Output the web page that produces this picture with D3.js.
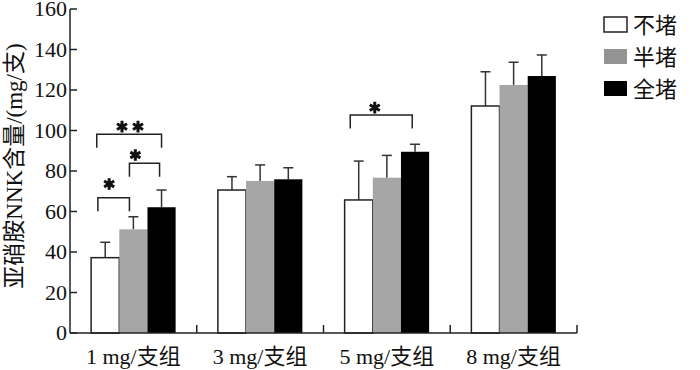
<!DOCTYPE html>
<html>
<head>
<meta charset="utf-8">
<script src="https://cdn.jsdelivr.net/npm/d3@7"></script>
<style>
    html, body { margin: 0; padding: 0; background: #fff; }
    svg { display: block; }
</style>
</head>
<body>
<svg id="chart" width="700" height="370"></svg>
<script>
// Data
const groups = ["1 mg/支组", "3 mg/支组", "5 mg/支组", "8 mg/支组"];
const seriesNames = ["不堵", "半堵", "全堵"];
const seriesColors = ["#ffffff", "#a6a6a6", "#000000"];
const legendColors = ["#ffffff", "#939393", "#000000"];

const meanOpen = [37.2, 70.6, 65.7, 112.1];
const meanHalf = [51.2, 75.1, 76.7, 122.5];
const meanFull = [62.1, 75.9, 89.5, 126.9];

const errOpen = [7.6, 6.6, 19.2, 16.9];
const errHalf = [6.2, 7.9, 11.0, 11.2];
const errFull = [8.5, 5.7, 3.7, 10.4];

const yTicks = [0, 20, 40, 60, 80, 100, 120, 140, 160];

// Significance brackets: positions in bar units (0 = left edge of first bar)
const sigGroup = [0, 0, 0, 2];
const sigFrom = [0.24, 1.36, 0.2, 0.2];
const sigTo = [1.36, 2.43, 2.5, 2.4];
const sigLevel = [66.8, 83.8, 98.1, 107.7];
const sigStarPos = [0.64, 1.57, 1.38, 1.07];
const sigStarLevel = [73.6, 87.9, 101.9, 111.3];
const sigStars = [1, 1, 2, 1];

const means = [meanOpen, meanHalf, meanFull];
const errs = [errOpen, errHalf, errFull];

const svg = d3.select("#chart");
const serif = "'Liberation Serif', 'Times New Roman', 'Noto Sans CJK SC', serif";
const axisColor = "#222";

const x0 = d3.scaleBand().domain(groups).range([70, 577]).padding(0);
const x1 = d3.scaleBand().domain(seriesNames).range([0, x0.bandwidth()]).paddingInner(0).paddingOuter(0.75);
const y = d3.scaleLinear().domain([0, 160]).range([333, 9]);

const barData = [];
groups.forEach((g, gi) => {
    seriesNames.forEach((s, si) => {
        barData.push({ group: g, series: s, si, value: means[si][gi], err: errs[si][gi] });
    });
});

const plot = svg.append("g");

// Error bars (upper only), drawn under the bars
const capW = 10;
const eb = plot.selectAll(".err")
    .data(barData)
    .enter()
    .append("g")
    .attr("class", "err")
    .attr("stroke", "#333")
    .attr("stroke-width", 1.5);

eb.append("line")
    .attr("x1", d => x0(d.group) + x1(d.series) + x1.bandwidth() / 2)
    .attr("x2", d => x0(d.group) + x1(d.series) + x1.bandwidth() / 2)
    .attr("y1", d => y(d.value))
    .attr("y2", d => y(d.value + d.err));

eb.append("line")
    .attr("x1", d => x0(d.group) + x1(d.series) + x1.bandwidth() / 2 - capW / 2)
    .attr("x2", d => x0(d.group) + x1(d.series) + x1.bandwidth() / 2 + capW / 2)
    .attr("y1", d => y(d.value + d.err))
    .attr("y2", d => y(d.value + d.err));

// Bars
plot.selectAll(".bar")
    .data(barData)
    .enter()
    .append("rect")
    .attr("class", "bar")
    .attr("x", d => x0(d.group) + x1(d.series))
    .attr("y", d => y(d.value))
    .attr("width", x1.bandwidth())
    .attr("height", d => y(0) - y(d.value))
    .attr("fill", d => seriesColors[d.si])
    .attr("stroke", d => d.si === 0 ? "#222" : "none")
    .attr("stroke-width", 1.5);

// Axes
const yAxis = svg.append("g").attr("transform", "translate(70,0)");
yAxis.append("line")
    .attr("x1", 0).attr("x2", 0)
    .attr("y1", y(160)).attr("y2", y(0))
    .attr("stroke", axisColor).attr("stroke-width", 1.5);
yAxis.selectAll(".ytick")
    .data(yTicks)
    .enter()
    .append("line")
    .attr("x1", 0).attr("x2", 7)
    .attr("y1", d => y(d)).attr("y2", d => y(d))
    .attr("stroke", axisColor).attr("stroke-width", 1.5);
yAxis.selectAll(".ylab")
    .data(yTicks)
    .enter()
    .append("text")
    .attr("x", -3)
    .attr("y", d => y(d))
    .attr("dy", "0.34em")
    .attr("text-anchor", "end")
    .attr("font-family", serif)
    .attr("font-size", 22)
    .attr("fill", "#111")
    .text(d => d);

const xAxis = svg.append("g");
xAxis.append("line")
    .attr("x1", 70).attr("x2", 577)
    .attr("y1", y(0)).attr("y2", y(0))
    .attr("stroke", axisColor).attr("stroke-width", 1.5);
xAxis.selectAll(".xtick")
    .data(groups)
    .enter()
    .append("line")
    .attr("x1", d => x0(d) + x0.bandwidth())
    .attr("x2", d => x0(d) + x0.bandwidth())
    .attr("y1", y(0)).attr("y2", y(0) - 8)
    .attr("stroke", axisColor).attr("stroke-width", 1.5);
xAxis.selectAll(".xlab")
    .data(groups)
    .enter()
    .append("text")
    .attr("x", d => x0(d) + x0.bandwidth() / 2)
    .attr("y", 364)
    .attr("text-anchor", "middle")
    .attr("font-family", serif)
    .attr("font-size", 22)
    .attr("fill", "#111")
    .text(d => d);

// Y axis title
svg.append("text")
    .attr("transform", "translate(14,166) rotate(-90)")
    .attr("text-anchor", "middle")
    .attr("dy", "0.35em")
    .attr("font-family", serif)
    .attr("font-size", 23)
    .attr("fill", "#111")
    .text("亚硝胺NNK含量/(mg/支)");

// Significance brackets
const barLeft = gi => x0(groups[gi]) + x1(seriesNames[0]);
const posX = (gi, p) => barLeft(gi) + p * x1.step();
const legLen = 13.5;
const sig = svg.append("g");
sigGroup.forEach((gi, i) => {
    const xa = posX(gi, sigFrom[i]);
    const xb = posX(gi, sigTo[i]);
    const yt = y(sigLevel[i]);
    sig.append("path")
        .attr("d", `M${xa},${yt + legLen}V${yt}H${xb}V${yt + legLen}`)
        .attr("fill", "none")
        .attr("stroke", "#222")
        .attr("stroke-width", 1.5);

    const cx = posX(gi, sigStarPos[i]);
    const n = sigStars[i];
    for (let k = 0; k < n; k++) {
        const sx = cx + (k - (n - 1) / 2) * 16;
        sig.append("path")
            .attr("d", d3.symbol().type(d3.symbolAsterisk).size(95)())
            .attr("transform", `translate(${sx},${y(sigStarLevel[i])})`)
            .attr("stroke", "#111")
            .attr("stroke-width", 3)
            .attr("fill", "none");
    }
});

// Legend
const legend = svg.append("g").attr("transform", "translate(604,17)");
const items = legend.selectAll(".legend-item")
    .data(seriesNames)
    .enter()
    .append("g")
    .attr("class", "legend-item")
    .attr("transform", (d, i) => `translate(0,${i * 32})`);
items.append("rect")
    .attr("width", 23)
    .attr("height", 15)
    .attr("fill", (d, i) => legendColors[i])
    .attr("stroke", (d, i) => i === 0 ? "#222" : "none")
    .attr("stroke-width", 1.5);
items.append("text")
    .attr("x", 29)
    .attr("y", 8)
    .attr("dy", "0.35em")
    .attr("font-family", serif)
    .attr("font-size", 22)
    .attr("fill", "#111")
    .text(d => d);
</script>
</body>
</html>
